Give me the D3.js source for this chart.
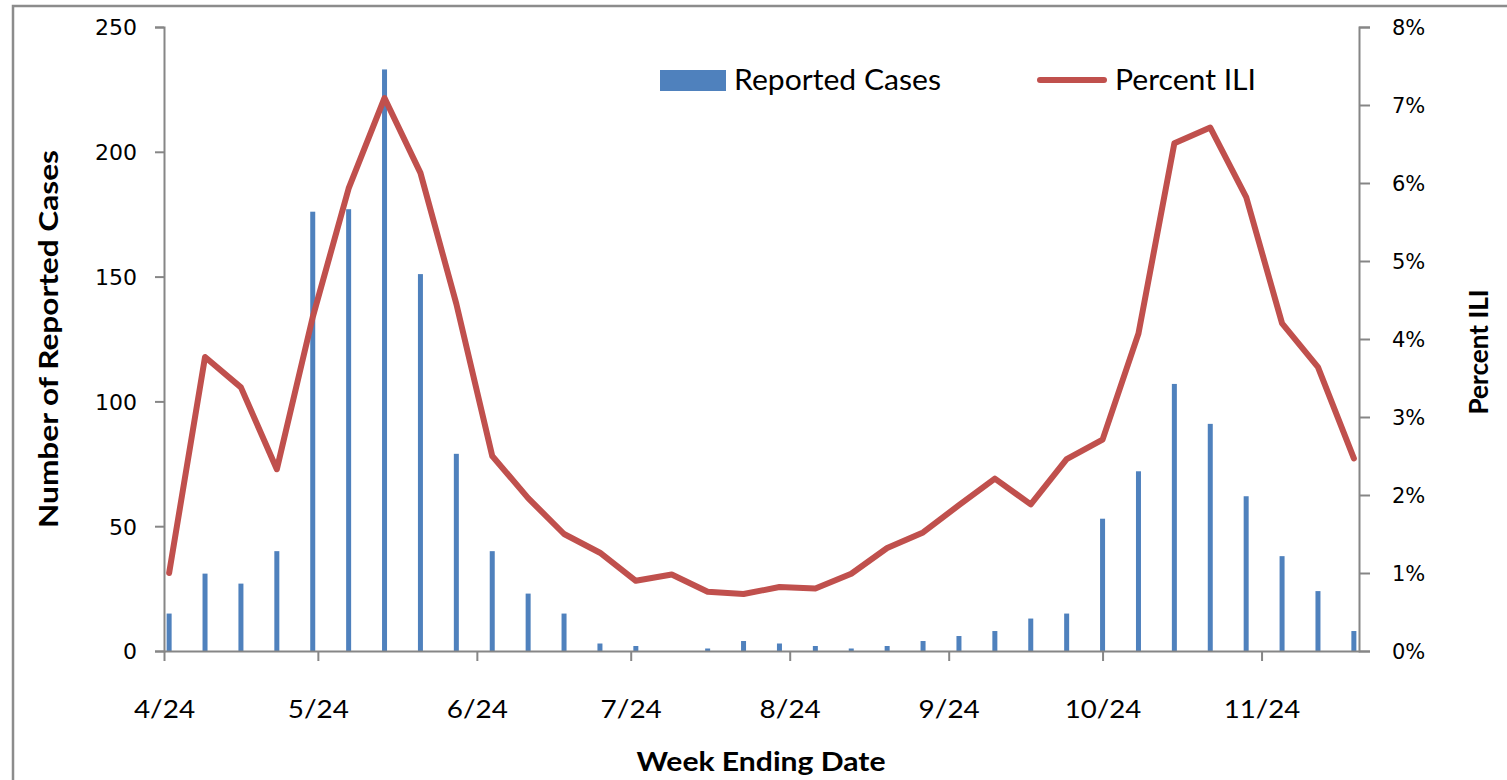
<!DOCTYPE html>
<head>
<style type="text/css">
	body { margin: 0; background: #fff; }
	text { fill: #000; }
	.axis path, .axis line { stroke: #868686; stroke-width: 2; }
</style>
</head>
<script src="https://d3js.org/d3.v7.min.js"></script>
<body>
	<svg width="1507" height="780"></svg>
	<script>
	// weekly data, week ending (Saturday)
	var weekEnding = ["2009-04-25","2009-05-02","2009-05-09","2009-05-16","2009-05-23","2009-05-30",
		"2009-06-06","2009-06-13","2009-06-20","2009-06-27","2009-07-04","2009-07-11","2009-07-18",
		"2009-07-25","2009-08-01","2009-08-08","2009-08-15","2009-08-22","2009-08-29","2009-09-05",
		"2009-09-12","2009-09-19","2009-09-26","2009-10-03","2009-10-10","2009-10-17","2009-10-24",
		"2009-10-31","2009-11-07","2009-11-14","2009-11-21","2009-11-28","2009-12-05","2009-12-12"];
	var reportedCases = [15,31,27,40,176,177,233,151,79,40,23,15,3,2,0,1,4,3,2,1,
		2,4,6,8,13,15,53,72,107,91,62,38,24,8];
	var percentILI = [1.0,3.77,3.38,2.33,4.28,5.93,7.09,6.13,4.45,2.5,1.96,1.5,1.26,0.9,0.98,0.76,0.73,0.82,0.8,0.99,
		1.32,1.52,1.87,2.21,1.88,2.46,2.71,4.07,6.51,6.71,5.82,4.2,3.64,2.47];
	var xTickLabels = ["2009-04-24","2009-05-24","2009-06-24","2009-07-24","2009-08-24","2009-09-24","2009-10-24","2009-11-24"];
	var leftTicks = [0,50,100,150,200,250];
	var rightTicks = [0,1,2,3,4,5,6,7,8];

	var parse = d3.timeParse("%Y-%m-%d");
	var svg = d3.select("svg");

	// outer frame
	svg.append("rect")
		.attr("x", 13).attr("y", 6)
		.attr("width", 1520).attr("height", 800)
		.attr("fill", "none").attr("stroke", "#8c8c8c").attr("stroke-width", 2.5);

	var x = d3.scaleTime()
		.domain([parse("2009-04-24"), parse("2009-12-13")])
		.range([164, 1359]);
	var yL = d3.scaleLinear().domain([0, 250]).range([651, 27]);
	var yR = d3.scaleLinear().domain([0, 8]).range([651, 27]);

	// bars
	svg.append("g").selectAll("rect")
		.data(weekEnding)
		.enter().append("rect")
		.attr("x", function(d) { return x(parse(d)) - 2.5; })
		.attr("width", 5)
		.attr("y", function(d, i) { return yL(reportedCases[i]); })
		.attr("height", function(d, i) { return yL(0) - yL(reportedCases[i]); })
		.attr("fill", "#4f81bd");

	// axes
	var gx = svg.append("g").attr("class", "axis")
		.attr("transform", "translate(0,651)")
		.call(d3.axisBottom(x).tickValues(xTickLabels.map(parse)).tickSize(10).tickSizeOuter(0)
			.tickFormat(d3.timeFormat("%-m/%-d")));
	gx.selectAll("text")
		.attr("y", 67).attr("dy", 0)
		.attr("font-family", "Lato, 'Open Sans', sans-serif")
		.attr("font-size", 25)
		.attr("textLength", function() { return this.textContent.length * 15.3; })
		.attr("lengthAdjust", "spacingAndGlyphs");

	var gl = svg.append("g").attr("class", "axis")
		.attr("transform", "translate(164,0)")
		.call(d3.axisLeft(yL).tickValues(leftTicks).tickSize(9).tickSizeOuter(9));
	gl.selectAll("text")
		.attr("x", -27).attr("dy", "0.36em")
		.attr("font-family", "'DejaVu Sans', sans-serif")
		.attr("font-size", 22);

	var gr = svg.append("g").attr("class", "axis")
		.attr("transform", "translate(1359,0)")
		.call(d3.axisRight(yR).tickValues(rightTicks).tickSize(11).tickSizeOuter(11)
			.tickFormat(function(d) { return d + "%"; }));
	gr.selectAll("text")
		.attr("x", 33).attr("dy", "0.36em")
		.attr("font-family", "'DejaVu Sans', sans-serif")
		.attr("font-size", 21);
	svg.selectAll(".axis text").attr("fill", "#000");

	// ILI line
	var line = d3.line()
		.x(function(d) { return x(parse(d)); })
		.y(function(d, i) { return yR(percentILI[i]); });
	svg.append("path")
		.datum(weekEnding)
		.attr("d", line)
		.attr("fill", "none")
		.attr("stroke", "#c0504d")
		.attr("stroke-width", 6)
		.attr("stroke-linejoin", "round")
		.attr("stroke-linecap", "round");

	// axis titles
	var titleFont = "Lato, 'Open Sans', sans-serif";
	svg.append("text")
		.attr("x", 761).attr("y", 771)
		.attr("text-anchor", "middle")
		.attr("font-family", titleFont).attr("font-weight", "bold").attr("font-size", 27)
		.attr("textLength", 249).attr("lengthAdjust", "spacingAndGlyphs")
		.text("Week Ending Date");
	svg.append("text")
		.attr("transform", "translate(58,339) rotate(-90)")
		.attr("text-anchor", "middle")
		.attr("font-family", titleFont).attr("font-weight", "bold").attr("font-size", 27)
		.attr("textLength", 378).attr("lengthAdjust", "spacingAndGlyphs")
		.text("Number of Reported Cases");
	svg.append("text")
		.attr("transform", "translate(1488,352) rotate(-90)")
		.attr("text-anchor", "middle")
		.attr("font-family", titleFont).attr("font-weight", "bold").attr("font-size", 27)
		.attr("textLength", 125).attr("lengthAdjust", "spacingAndGlyphs")
		.text("Percent ILI");

	// legend
	var lg = svg.append("g");
	lg.append("rect")
		.attr("x", 660).attr("y", 70).attr("width", 66).attr("height", 21)
		.attr("fill", "#4f81bd");
	lg.append("text")
		.attr("x", 734).attr("y", 90)
		.attr("font-family", titleFont).attr("font-size", 28)
		.attr("textLength", 207).attr("lengthAdjust", "spacingAndGlyphs")
		.text("Reported Cases");
	lg.append("line")
		.attr("x1", 1040).attr("x2", 1104).attr("y1", 80).attr("y2", 80)
		.attr("stroke", "#c0504d").attr("stroke-width", 6).attr("stroke-linecap", "round");
	lg.append("text")
		.attr("x", 1115).attr("y", 90)
		.attr("font-family", titleFont).attr("font-size", 28)
		.attr("textLength", 141).attr("lengthAdjust", "spacingAndGlyphs")
		.text("Percent ILI");
	</script>
</body>
